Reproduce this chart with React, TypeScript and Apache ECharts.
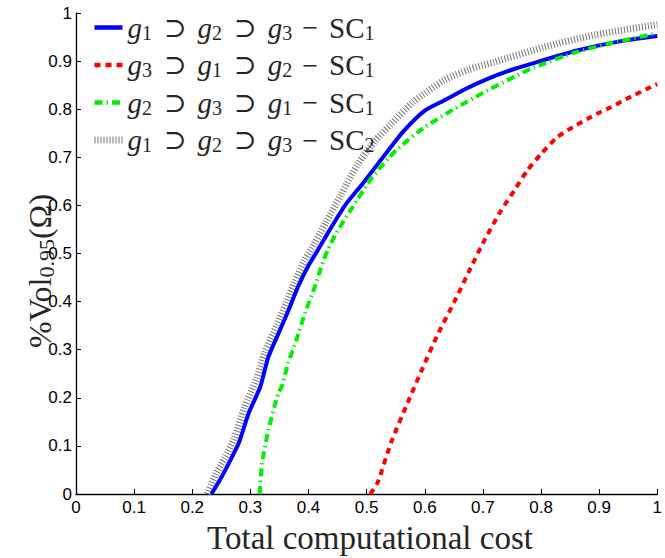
import React, { useEffect, useRef } from "react";
import * as echarts from "echarts";

// Series names (legend order)
const names = [
  "g1 ⊃ g2 ⊃ g3 − SC1",
  "g3 ⊃ g1 ⊃ g2 − SC1",
  "g2 ⊃ g3 ⊃ g1 − SC1",
  "g1 ⊃ g2 ⊃ g3 − SC2",
];
const legendRich = [
  "{g|g}{s|1}{op|⊃}{g|g}{s|2}{op|⊃}{g|g}{s|3}{m|−}{t|SC}{s|1}",
  "{g|g}{s|3}{op|⊃}{g|g}{s|1}{op|⊃}{g|g}{s|2}{m|−}{t|SC}{s|1}",
  "{g|g}{s|2}{op|⊃}{g|g}{s|3}{op|⊃}{g|g}{s|1}{m|−}{t|SC}{s|1}",
  "{g|g}{s|1}{op|⊃}{g|g}{s|2}{op|⊃}{g|g}{s|3}{m|−}{t|SC}{s|2}",
];

const xTicks = [0, 0.1, 0.2, 0.3, 0.4, 0.5, 0.6, 0.7, 0.8, 0.9, 1];

// [cost, vol]
const blueSC1 = [
  [0.233, 0], [0.248, 0.03], [0.263, 0.064], [0.28, 0.106], [0.297, 0.168],
  [0.317, 0.223], [0.331, 0.285], [0.351, 0.341], [0.368, 0.389], [0.382, 0.431],
  [0.399, 0.473], [0.416, 0.507], [0.435, 0.546], [0.464, 0.602], [0.493, 0.645],
  [0.533, 0.708], [0.564, 0.755], [0.6, 0.797], [0.633, 0.818], [0.67, 0.842],
  [0.708, 0.863], [0.75, 0.882], [0.793, 0.898], [0.862, 0.922], [0.931, 0.94],
  [1.0, 0.952],
];
const redSC1 = [
  [0.506, 0], [0.519, 0.024], [0.542, 0.107], [0.571, 0.191], [0.596, 0.261],
  [0.622, 0.331], [0.651, 0.4], [0.679, 0.47], [0.702, 0.526], [0.731, 0.589],
  [0.754, 0.631], [0.776, 0.672], [0.8, 0.707], [0.828, 0.742], [0.851, 0.76],
  [0.897, 0.791], [0.92, 0.804], [0.943, 0.819], [0.994, 0.849], [1.0, 0.852],
];
const greenSC1 = [
  [0.316, 0], [0.32, 0.064], [0.331, 0.133], [0.348, 0.21], [0.354, 0.223],
  [0.365, 0.272], [0.379, 0.32], [0.394, 0.376], [0.411, 0.431], [0.425, 0.483],
  [0.433, 0.507], [0.446, 0.539], [0.475, 0.595], [0.51, 0.659], [0.55, 0.714],
  [0.599, 0.762], [0.65, 0.8], [0.702, 0.835], [0.745, 0.862], [0.788, 0.887],
  [0.862, 0.919], [0.931, 0.94], [1.0, 0.958],
];
const graySC2 = [
  [0.226, 0], [0.24, 0.04], [0.256, 0.075], [0.272, 0.115], [0.29, 0.18],
  [0.31, 0.238], [0.325, 0.295], [0.345, 0.35], [0.362, 0.398], [0.376, 0.44],
  [0.393, 0.485], [0.41, 0.52], [0.43, 0.565], [0.455, 0.62], [0.485, 0.686],
  [0.515, 0.735], [0.542, 0.769], [0.58, 0.815], [0.633, 0.86], [0.675, 0.882],
  [0.719, 0.898], [0.805, 0.929], [0.891, 0.954], [1.0, 0.976],
];

const serif = "'Liberation Serif', 'DejaVu Serif', serif";
const sans = "'Liberation Sans', Arial, sans-serif";
const ink = "#262626";

export default function App() {
  const ref = useRef<HTMLDivElement>(null);
  useEffect(() => {
    if (!ref.current) return;
    const chart = echarts.init(ref.current, undefined, { renderer: "svg" });
    const axisCommon = {
      type: "value" as const,
      min: 0,
      max: 1,
      interval: 0.1,
      axisLine: { show: true, lineStyle: { color: "#000", width: 1.3 } },
      axisTick: { show: true, inside: true, length: 5, lineStyle: { color: "#000", width: 1 } },
      splitLine: { show: false },
      axisLabel: { color: "#000", fontFamily: sans, fontSize: 17 },
    };
    chart.setOption({
      animation: false,
      backgroundColor: "#fff",
      grid: { left: 76, top: 13, width: 586, height: 481 },
      xAxis: { ...axisCommon, axisLabel: { ...axisCommon.axisLabel, margin: 5 } },
      yAxis: { ...axisCommon, axisLabel: { ...axisCommon.axisLabel, margin: 4 } },
      legend: {
        orient: "vertical",
        left: 91,
        top: 13,
        padding: 0,
        itemWidth: 28,
        itemHeight: 14,
        itemGap: 8,
        data: [
          { name: names[0], lineStyle: { width: 4.5 } },
          { name: names[1], lineStyle: { width: 4.5 } },
          { name: names[2], lineStyle: { width: 4.5 } },
          { name: names[3], lineStyle: { width: 7 } },
        ],
        itemStyle: { opacity: 0 },
        formatter: (n: string) => legendRich[names.indexOf(n)],
        textStyle: {
          color: ink,
          rich: {
            g: { fontFamily: serif, fontStyle: "italic", fontSize: 29, lineHeight: 30, color: ink },
            t: { fontFamily: serif, fontSize: 29, lineHeight: 30, color: ink },
            op: { fontFamily: serif, fontSize: 27, lineHeight: 30, color: ink, padding: [0, 11, 0, 12] },
            m: { fontFamily: serif, fontSize: 28, lineHeight: 30, color: ink, padding: [0, 11, 0, 10] },
            s: { fontFamily: serif, fontSize: 20, lineHeight: 15, verticalAlign: "bottom", color: ink },
          },
        },
      },
      graphic: [
        {
          type: "text",
          x: 40,
          y: 271,
          rotation: Math.PI / 2,
          style: {
            text: "{t|%Vol}{s|0.95}{t|(Ω)}",
            align: "center",
            verticalAlign: "middle",
            rich: {
              t: { fontFamily: serif, fontSize: 32, lineHeight: 34, fill: ink },
              s: { fontFamily: serif, fontSize: 22, lineHeight: 17, verticalAlign: "bottom", fill: ink },
            },
          },
        },
        {
          type: "text",
          x: 370,
          y: 538,
          style: {
            text: "Total computational cost",
            align: "center",
            verticalAlign: "middle",
            fontFamily: serif,
            fontSize: 33,
            fill: ink,
          },
        },
      ],
      series: [
        {
          name: names[3],
          type: "line",
          symbol: "none",
          smooth: 0.25,
          data: graySC2,
          lineStyle: { color: "#777777", width: 7, type: [1, 2] },
          itemStyle: { color: "#777777" },
          z: 1,
        },
        {
          name: names[0],
          type: "line",
          symbol: "none",
          smooth: 0.2,
          data: blueSC1,
          lineStyle: { color: "#0000ff", width: 4, type: "solid" },
          itemStyle: { color: "#0000ff" },
          z: 2,
        },
        {
          name: names[1],
          type: "line",
          symbol: "none",
          smooth: 0.2,
          data: redSC1,
          lineStyle: { color: "#ff0000", width: 4, type: [6, 5] },
          itemStyle: { color: "#ff0000" },
          z: 3,
        },
        {
          name: names[2],
          type: "line",
          symbol: "none",
          smooth: 0.2,
          data: greenSC1,
          lineStyle: { color: "#00f000", width: 4, type: [8, 4, 1.5, 4] },
          itemStyle: { color: "#00f000" },
          z: 4,
        },
      ],
    });
    return () => chart.dispose();
  }, []);
  return (
    <div
      ref={ref}
      style={{ position: "fixed", left: 0, top: 0, width: 665, height: 558 }}
    />
  );
}
